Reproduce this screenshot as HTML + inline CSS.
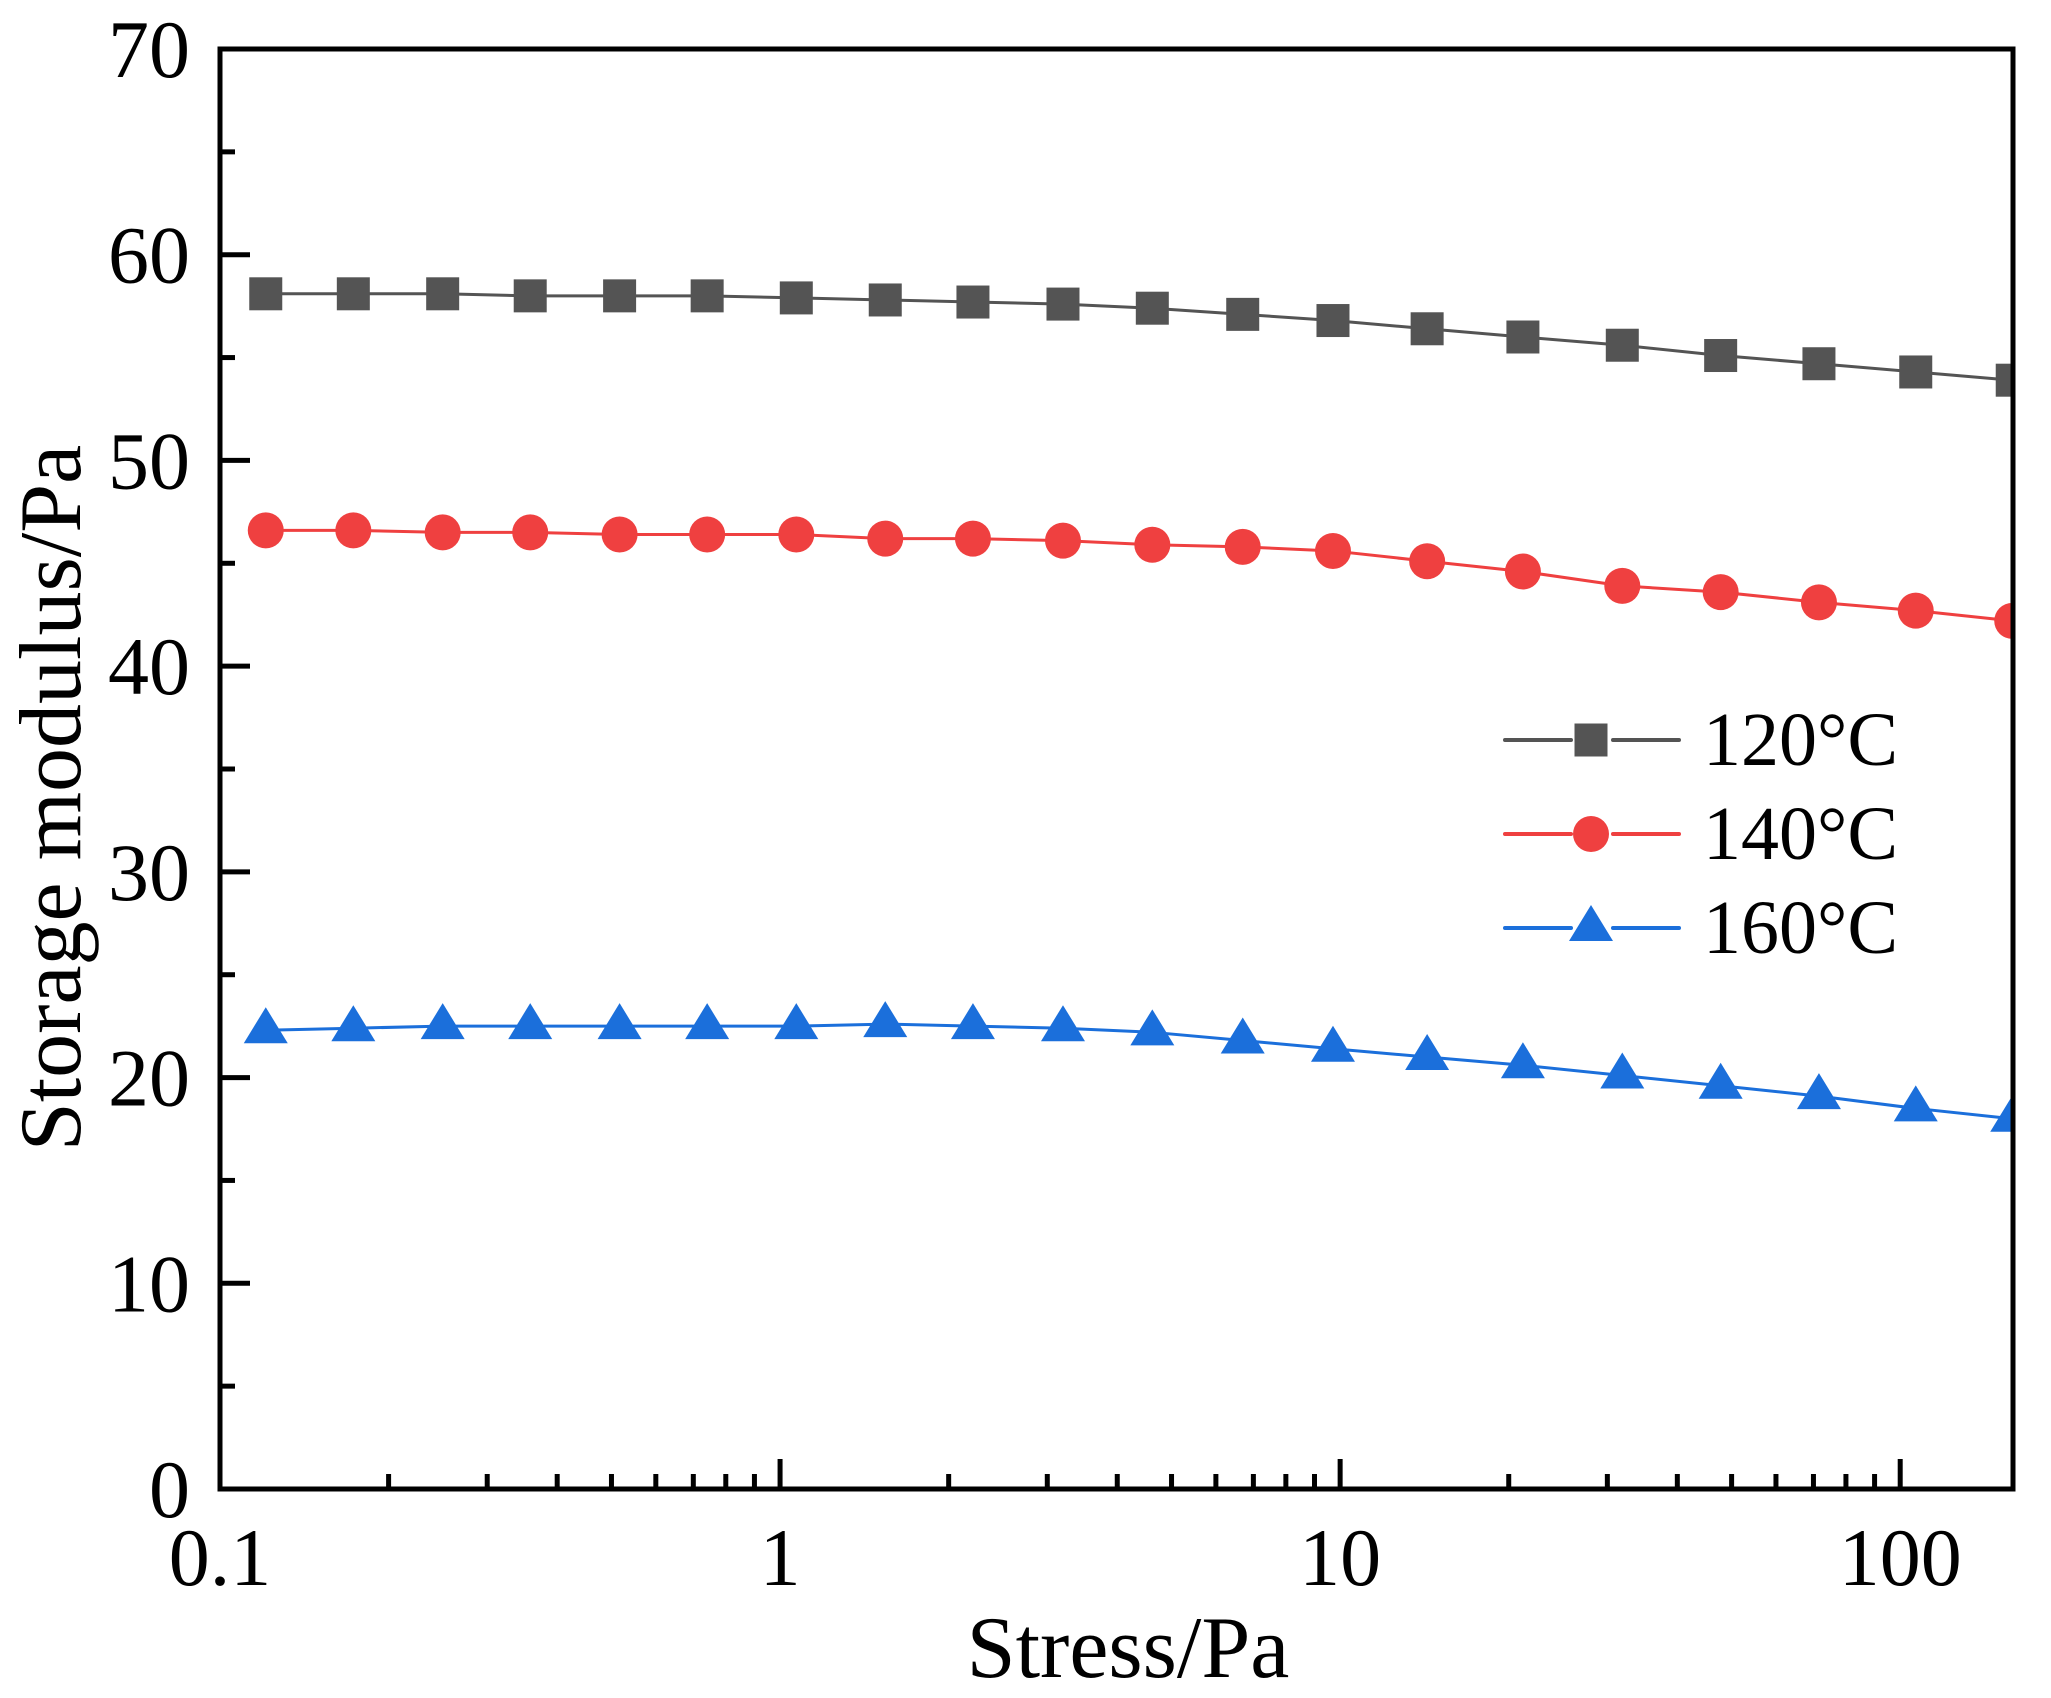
<!DOCTYPE html>
<html><head><meta charset="utf-8"><style>
html,body{margin:0;padding:0;background:#fff;}
svg{display:block;font-family:"Liberation Serif",serif;}
</style></head><body>
<svg id="chart" width="2051" height="1698" viewBox="0 0 2051 1698" xmlns="http://www.w3.org/2000/svg">
<g id="plot"></g>
</svg>
<script>
const stress = [0.1207,0.173,0.2498,0.358,0.517,0.741,1.069,1.541,2.21,3.20,4.62,6.70,9.71,14.3,21.2,31.9,47.8,71.6,106.6,158.5];
const g120 = [58.1,58.1,58.1,58.0,58.0,58.0,57.9,57.8,57.7,57.6,57.4,57.1,56.8,56.4,56.0,55.6,55.1,54.7,54.3,53.9];
const g140 = [46.6,46.6,46.5,46.5,46.4,46.4,46.4,46.2,46.2,46.1,45.9,45.8,45.6,45.1,44.6,43.9,43.6,43.1,42.7,42.2];
const g160 = [22.3,22.4,22.5,22.5,22.5,22.5,22.5,22.6,22.5,22.4,22.2,21.8,21.4,21.0,20.6,20.1,19.6,19.1,18.5,18.0];
const yTicks = [0,10,20,30,40,50,60,70];
const xTickLabels = ["0.1","1","10","100"];
const xTickValues = [0.1,1,10,100];
const seriesNames = ["120°C","140°C","160°C"];

const NS="http://www.w3.org/2000/svg";
const L=220,R=2013,T=49,B=1489;
const xMin=0.1,xMax=159,yMin=0,yMax=70;
const xs=v=>L+(Math.log10(v)-Math.log10(xMin))/(Math.log10(xMax)-Math.log10(xMin))*(R-L);
const ys=v=>B-(v-yMin)/(yMax-yMin)*(B-T);
const plot=document.getElementById('plot');
function mk(tag,attrs,parent){const e=document.createElementNS(NS,tag);for(const k in attrs)e.setAttribute(k,attrs[k]);(parent||plot).appendChild(e);return e;}

yTicks.forEach((v,i)=>{
  const t=mk('line',{x1:L,x2:L+30,y1:ys(v),y2:ys(v),stroke:'#000','stroke-width':5});
  
  
  if(i<yTicks.length-1){
    const m=mk('line',{x1:L,x2:L+15,y1:ys(v+5),y2:ys(v+5),stroke:'#000','stroke-width':5});
    
    
  }
  const lb=mk('text',{x:190,y:ys(v)+28,'text-anchor':'end','font-size':82});
  lb.textContent=String(v);
  
  
});
xTickValues.forEach((v,i)=>{
  const t=mk('line',{x1:xs(v),x2:xs(v),y1:B,y2:B-30,stroke:'#000','stroke-width':5});
  
  
  for(let k=2;k<=9;k++){
    const mv=v*k; if(mv>xMax) break;
    const m=mk('line',{x1:xs(mv),x2:xs(mv),y1:B,y2:B-15,stroke:'#000','stroke-width':5});
    
    
  }
  const lb=mk('text',{x:xs(v),y:1585,'text-anchor':'middle','font-size':82});
  lb.textContent=xTickLabels[i];
  
  
});

const series=[{d:g120,c:'#545454',m:'square'},{d:g140,c:'#ef4040',m:'circle'},{d:g160,c:'#1b6fdb',m:'triangle'}];
function marker(type,cx,cy,c,parent){
  let e;
  if(type==='square') e=mk('rect',{x:cx-16.5,y:cy-16.5,width:33,height:33,fill:c},parent);
  else if(type==='circle') e=mk('circle',{cx:cx,cy:cy,r:18,fill:c},parent);
  else e=mk('polygon',{points:`${cx},${cy-23} ${cx-22},${cy+13} ${cx+22},${cy+13}`,fill:c},parent);
  return e;
}
const clip=mk('clipPath',{id:'pc'});
mk('rect',{x:L,y:T-40,width:R-L+2,height:B-T+80},clip);
series.forEach((s,si)=>{
  const grp=mk('g',{'clip-path':'url(#pc)'});
  
  
  const pts=stress.map((x,i)=>xs(x)+','+ys(s.d[i])).join(' ');
  const pl=mk('polyline',{points:pts,fill:'none',stroke:s.c,'stroke-width':3},grp);
  
  
  stress.forEach((x,i)=>{
    const e=marker(s.m,xs(x),ys(s.d[i]),s.c,grp);
    
    
  });
});

const fr=mk('rect',{x:L,y:T,width:R-L,height:B-T,fill:'none',stroke:'#000','stroke-width':5});



const lg=mk('g',{});


series.forEach((s,i)=>{
  const y=740+i*94;
  const e=mk('g',{},lg);
  
  
  mk('line',{x1:1505,x2:1571,y1:y,y2:y,stroke:s.c,'stroke-width':4,'stroke-linecap':'round'},e);
  mk('line',{x1:1613,x2:1679,y1:y,y2:y,stroke:s.c,'stroke-width':4,'stroke-linecap':'round'},e);
  marker(s.m,1591,y,s.c,e);
  const t=mk('text',{x:1703,y:y+25,'font-size':76},e);
  t.textContent=seriesNames[i];
});

const xt=mk('text',{x:1128,y:1677,'text-anchor':'middle','font-size':88});
xt.textContent='Stress/Pa';


const yt=mk('text',{x:0,y:0,'text-anchor':'middle','font-size':88,transform:'translate(80,798) rotate(-90)'});
yt.textContent='Storage modulus/Pa';


</script>
</body></html>
